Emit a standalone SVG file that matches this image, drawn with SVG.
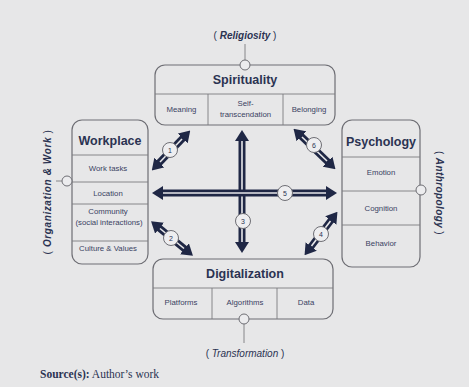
<svg xmlns="http://www.w3.org/2000/svg" width="469" height="387" viewBox="0 0 469 387">
<defs>
<style>
.box{fill:none;stroke:#6e6e74;stroke-width:1.2}
.div{stroke:#7a7a80;stroke-width:0.9}
.title{font-family:"Liberation Sans",Arial,sans-serif;font-weight:bold;font-size:12.5px;fill:#2b3352;text-anchor:middle}
.item{font-family:"Liberation Sans",Arial,sans-serif;font-size:7.8px;fill:#3a4262;text-anchor:middle}
.ctx{font-family:"Liberation Sans",Arial,sans-serif;font-size:10px;fill:#2b3352;text-anchor:middle}
.conn{fill:#ececee;stroke:#6e6e74;stroke-width:1}
.shaft{stroke:#1f2745;stroke-width:7;fill:none}
.stripe{stroke:#e9e9eb;stroke-width:1.6;fill:none}
.lbl{fill:#eeeef0;stroke:#6e6e74;stroke-width:1}
.num{font-family:"Liberation Sans",Arial,sans-serif;font-size:7px;fill:#2b3352;text-anchor:middle}
</style>
<marker id="ah" markerUnits="userSpaceOnUse" markerWidth="11" markerHeight="14" refX="2" refY="7" orient="auto-start-reverse" viewBox="0 0 11 14">
<path d="M0,0 L11,7 L0,14 z" fill="#1f2745"/>
</marker>
</defs>
<rect width="469" height="387" fill="#e7e7e8"/>

<g id="connectors">
<g id="arrow3">
<line class="shaft" x1="242" y1="139" x2="242" y2="244" marker-start="url(#ah)" marker-end="url(#ah)"/>
<line class="stripe" x1="242" y1="141" x2="242" y2="242"/>
</g>
<g id="arrow5">
<line class="shaft" x1="161" y1="193" x2="328" y2="193" marker-start="url(#ah)" marker-end="url(#ah)"/>
<line class="stripe" x1="163" y1="193" x2="326" y2="193"/>
</g>
<g id="arrow1">
<line class="shaft" x1="158" y1="164" x2="184" y2="137" marker-start="url(#ah)" marker-end="url(#ah)"/>
<line class="stripe" x1="160" y1="162" x2="182" y2="139"/>
</g>
<g id="arrow2">
<line class="shaft" x1="158" y1="227" x2="186" y2="250" marker-start="url(#ah)" marker-end="url(#ah)"/>
<line class="stripe" x1="160" y1="228.5" x2="184" y2="248.5"/>
</g>
<g id="arrow6">
<line class="shaft" x1="300" y1="135" x2="329" y2="163" marker-start="url(#ah)" marker-end="url(#ah)"/>
<line class="stripe" x1="302" y1="137" x2="327" y2="161"/>
</g>
<g id="arrow4">
<line class="shaft" x1="332" y1="219" x2="310" y2="248" marker-start="url(#ah)" marker-end="url(#ah)"/>
<line class="stripe" x1="330.5" y1="221" x2="311.5" y2="246"/>
</g>
<circle class="lbl" cx="170" cy="150" r="7.5"/><text class="num" x="170" y="152.5">1</text>
<circle class="lbl" cx="171" cy="238" r="7.5"/><text class="num" x="171" y="240.5">2</text>
<circle class="lbl" cx="243" cy="221" r="7.5"/><text class="num" x="243" y="223.5">3</text>
<circle class="lbl" cx="321" cy="234" r="7.5"/><text class="num" x="321" y="236.5">4</text>
<circle class="lbl" cx="285" cy="193" r="7.5"/><text class="num" x="285" y="195.5">5</text>
<circle class="lbl" cx="314" cy="145" r="7.5"/><text class="num" x="314" y="147.5">6</text>
</g>

<g id="spirituality">
<line class="div" x1="245" y1="44" x2="245" y2="60"/>
<text class="ctx" x="245" y="39">( <tspan font-weight="bold" font-style="italic">Religiosity</tspan> )</text>
<rect class="box" x="155" y="65" width="180" height="60" rx="10"/>
<line class="div" x1="155" y1="94" x2="335" y2="94"/>
<line class="div" x1="208" y1="94" x2="208" y2="125"/>
<line class="div" x1="283" y1="94" x2="283" y2="125"/>
<circle class="conn" cx="245" cy="65" r="5"/>
<text class="title" x="245" y="84">Spirituality</text>
<text class="item" x="181.5" y="112">Meaning</text>
<text class="item" x="245.5" y="106">Self-</text>
<text class="item" x="245.5" y="117">transcendation</text>
<text class="item" x="309" y="112">Belonging</text>
</g>

<g id="workplace">
<line class="div" x1="56" y1="181" x2="62" y2="181"/>
<text class="ctx" font-size="11.5px" transform="translate(51,192) rotate(-90)" letter-spacing="0.6">( <tspan font-weight="bold" font-style="italic">Organization &amp; Work</tspan> )</text>
<rect class="box" x="72" y="120" width="76" height="144" rx="10"/>
<line class="div" x1="72" y1="155" x2="148" y2="155"/>
<line class="div" x1="72" y1="182" x2="148" y2="182"/>
<line class="div" x1="72" y1="204" x2="148" y2="204"/>
<line class="div" x1="72" y1="241" x2="148" y2="241"/>
<circle class="conn" cx="67" cy="181" r="5"/>
<text class="title" x="110" y="145">Workplace</text>
<text class="item" x="108" y="171">Work tasks</text>
<text class="item" x="108" y="196">Location</text>
<text class="item" x="108" y="214">Community</text>
<text class="item" x="109" y="225">(social interactions)</text>
<text class="item" x="108" y="251">Culture &amp; Values</text>
</g>

<g id="psychology">
<text class="ctx" font-size="11.5px" transform="translate(436,193) rotate(90)" letter-spacing="0.4">( <tspan font-weight="bold" font-style="italic">Anthropology</tspan> )</text>
<rect class="box" x="342" y="120" width="78" height="147" rx="10"/>
<line class="div" x1="342" y1="157" x2="420" y2="157"/>
<line class="div" x1="342" y1="191" x2="420" y2="191"/>
<line class="div" x1="342" y1="225" x2="420" y2="225"/>
<circle class="conn" cx="421" cy="190" r="5"/>
<text class="title" x="381" y="146">Psychology</text>
<text class="item" x="381" y="175">Emotion</text>
<text class="item" x="381" y="211">Cognition</text>
<text class="item" x="381" y="246">Behavior</text>
</g>

<g id="digitalization">
<rect class="box" x="153" y="259" width="180" height="60" rx="10"/>
<line class="div" x1="153" y1="288" x2="333" y2="288"/>
<line class="div" x1="212" y1="288" x2="212" y2="319"/>
<line class="div" x1="277" y1="288" x2="277" y2="319"/>
<line class="div" x1="244" y1="324" x2="244" y2="343"/>
<circle class="conn" cx="244" cy="319" r="5"/>
<text class="title" x="245" y="278">Digitalization</text>
<text class="item" x="181" y="305">Platforms</text>
<text class="item" x="245" y="305">Algorithms</text>
<text class="item" x="306" y="305">Data</text>
<text class="ctx" font-size="10.5px" x="245" y="357" fill="#3a4262">( <tspan font-style="italic">Transformation</tspan> )</text>
</g>

<text x="40" y="378" font-family="Liberation Serif,'Times New Roman',serif" font-size="11.5px" fill="#2b3352"><tspan font-weight="bold">Source(s):</tspan> Author’s work</text>
</svg>
